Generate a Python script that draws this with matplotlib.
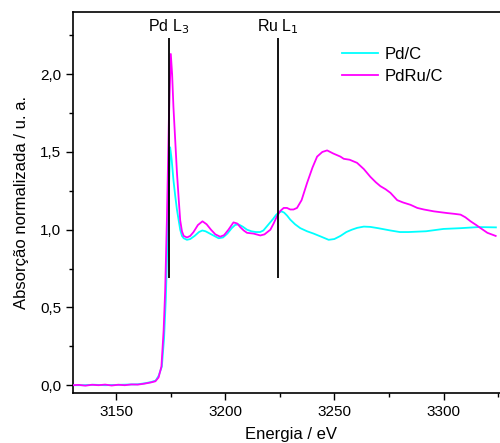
import matplotlib
matplotlib.use("Agg")
import matplotlib.pyplot as plt
import numpy as np

plt.rcParams['font.family'] = ['Liberation Sans', 'DejaVu Sans']

# Pd/C (cyan)
E_pd = [3130, 3135, 3140, 3145, 3150, 3155, 3160, 3163, 3166, 3168.2, 3169.5, 3171.0,
        3172.0, 3172.8, 3173.6, 3174.2, 3174.8, 3175.5, 3176.3, 3177.1, 3177.9, 3178.7,
        3179.4, 3180.2, 3181.0, 3182.5, 3184.0, 3186.0, 3188.0, 3189.5, 3191.0, 3193.0,
        3195.0, 3197.0, 3199.0, 3201.0, 3203.0, 3204.5, 3206.0, 3208.0, 3210.0, 3212.0,
        3214.0, 3216.0, 3217.5, 3219.0, 3220.5, 3222.0, 3223.3, 3224.5, 3225.8, 3227.0,
        3228.4, 3229.8, 3232.0, 3234.4, 3237.5, 3240.5, 3244.0, 3247.4, 3250.0, 3252.8,
        3255.5, 3258.0, 3260.5, 3263.5, 3266.5, 3270.0, 3275.7, 3280.0, 3284.0, 3292.0,
        3300.0, 3308.0, 3316.0, 3324.0]
A_pd = [0.0, 0.0, 0.003, 0.0, 0.002, 0.004, 0.006, 0.012, 0.02, 0.03, 0.06, 0.12,
        0.3, 0.55, 0.95, 1.25, 1.53, 1.45, 1.32, 1.22, 1.13, 1.06,
        1.0, 0.96, 0.945, 0.935, 0.94, 0.96, 0.985, 0.995, 0.99, 0.975,
        0.96, 0.945, 0.95, 0.975, 1.01, 1.03, 1.035, 1.02, 1.0, 0.99,
        0.985, 0.985, 0.995, 1.02, 1.045, 1.07, 1.095, 1.11, 1.118, 1.11,
        1.09, 1.065, 1.035, 1.01, 0.99, 0.975, 0.955, 0.935, 0.94, 0.96,
        0.985, 1.0, 1.012, 1.02, 1.018, 1.01, 0.995, 0.985, 0.985, 0.99,
        1.005, 1.01, 1.017, 1.015]

# PdRu/C (magenta)
E_ru = [3130, 3133, 3136, 3139, 3142, 3145, 3148, 3151, 3154, 3157, 3160, 3163, 3166,
        3168.0, 3169.5, 3170.8, 3171.8, 3172.5, 3173.3, 3174.2, 3175.1, 3175.7, 3176.3,
        3177.1, 3177.9, 3178.7, 3179.4, 3180.2, 3181.0, 3182.5, 3184.0, 3185.5, 3187.5,
        3189.6, 3191.5, 3193.5, 3195.5, 3197.7, 3199.5, 3201.5, 3203.8, 3205.5, 3207.0,
        3208.5, 3210.0, 3213.0, 3216.1, 3218.0, 3220.7, 3222.2, 3223.7, 3225.2, 3226.8,
        3228.3, 3229.8, 3231.3, 3232.9, 3235.0, 3237.5, 3240.0, 3242.1, 3244.5, 3246.7,
        3249.5, 3252.8, 3254.3, 3257.0, 3260.4, 3263.5, 3266.5, 3269.0, 3271.1, 3273.5,
        3275.7, 3278.8, 3281.5, 3284.9, 3288.0, 3291.0, 3295.6, 3301.7, 3305.0, 3307.8,
        3310.0, 3312.4, 3315.0, 3317.0, 3320.1, 3323.9]
A_ru = [0.0, 0.002, -0.003, 0.003, 0.0, 0.004, -0.002, 0.003, 0.0, 0.005, 0.004, 0.01, 0.018,
        0.025, 0.05, 0.12, 0.35, 0.6, 1.06, 1.7, 2.13, 2.0, 1.79,
        1.58, 1.37, 1.2, 1.06, 0.99, 0.96, 0.95, 0.96, 0.985, 1.03,
        1.054, 1.035, 1.0, 0.97, 0.955, 0.965, 1.0, 1.047, 1.04, 1.015,
        0.995, 0.98, 0.975, 0.963, 0.97, 1.0, 1.04, 1.086, 1.12, 1.14,
        1.14, 1.13, 1.13, 1.14, 1.19, 1.3, 1.4, 1.47, 1.5, 1.51,
        1.49, 1.47, 1.456, 1.45, 1.43, 1.39, 1.34, 1.305, 1.28, 1.26,
        1.237, 1.19, 1.175, 1.16, 1.14, 1.13, 1.118, 1.107, 1.102, 1.097,
        1.08, 1.054, 1.03, 1.01, 0.98, 0.96]

edge_labels = ['Pd L$_3$', 'Ru L$_1$']
edge_E = [3174.3, 3224.2]
edge_ymin, edge_ymax = 0.69, 2.23

fig = plt.figure(figsize=(5.0, 4.43), dpi=100)
ax = fig.add_axes([0.146, 0.1129, 0.872, 0.86])

ax.plot(E_pd, A_pd, color='#00FFFF', lw=1.3, label='Pd/C', zorder=3)
ax.plot(E_ru, A_ru, color='#FF00FF', lw=1.3, label='PdRu/C', zorder=3)

for lab, e in zip(edge_labels, edge_E):
    ax.vlines(e, edge_ymin, edge_ymax, color='black', lw=1.3, zorder=4)
    ax.text(e, 2.245, lab, ha='center', va='bottom', fontsize=11.5)

ax.set_xlim(3130.3, 3330)
ax.set_ylim(-0.05, 2.4)
ax.set_xticks([3150, 3200, 3250, 3300])
ax.set_xticks([3175, 3225, 3275, 3325], minor=True)
ax.set_yticks([0.0, 0.5, 1.0, 1.5, 2.0])
ax.set_yticks([0.25, 0.75, 1.25, 1.75, 2.25], minor=True)
ax.set_yticklabels(['0,0', '0,5', '1,0', '1,5', '2,0'])
ax.tick_params(which='major', direction='out', length=5, width=1, labelsize=11)
ax.tick_params(which='minor', direction='out', length=3, width=1)
ax.spines['right'].set_visible(False)
for s in ax.spines.values():
    s.set_linewidth(1.2)

ax.set_xlabel('Energia / eV', fontsize=12, labelpad=6)
ax.set_ylabel('Absorção normalizada / u. a.', fontsize=12, labelpad=8)

ax.legend(loc='upper left', bbox_to_anchor=(0.582, 0.948), frameon=False, fontsize=12,
          handlelength=2.2, handletextpad=0.36, labelspacing=0.45)

fig.savefig('out.png', dpi=100)
